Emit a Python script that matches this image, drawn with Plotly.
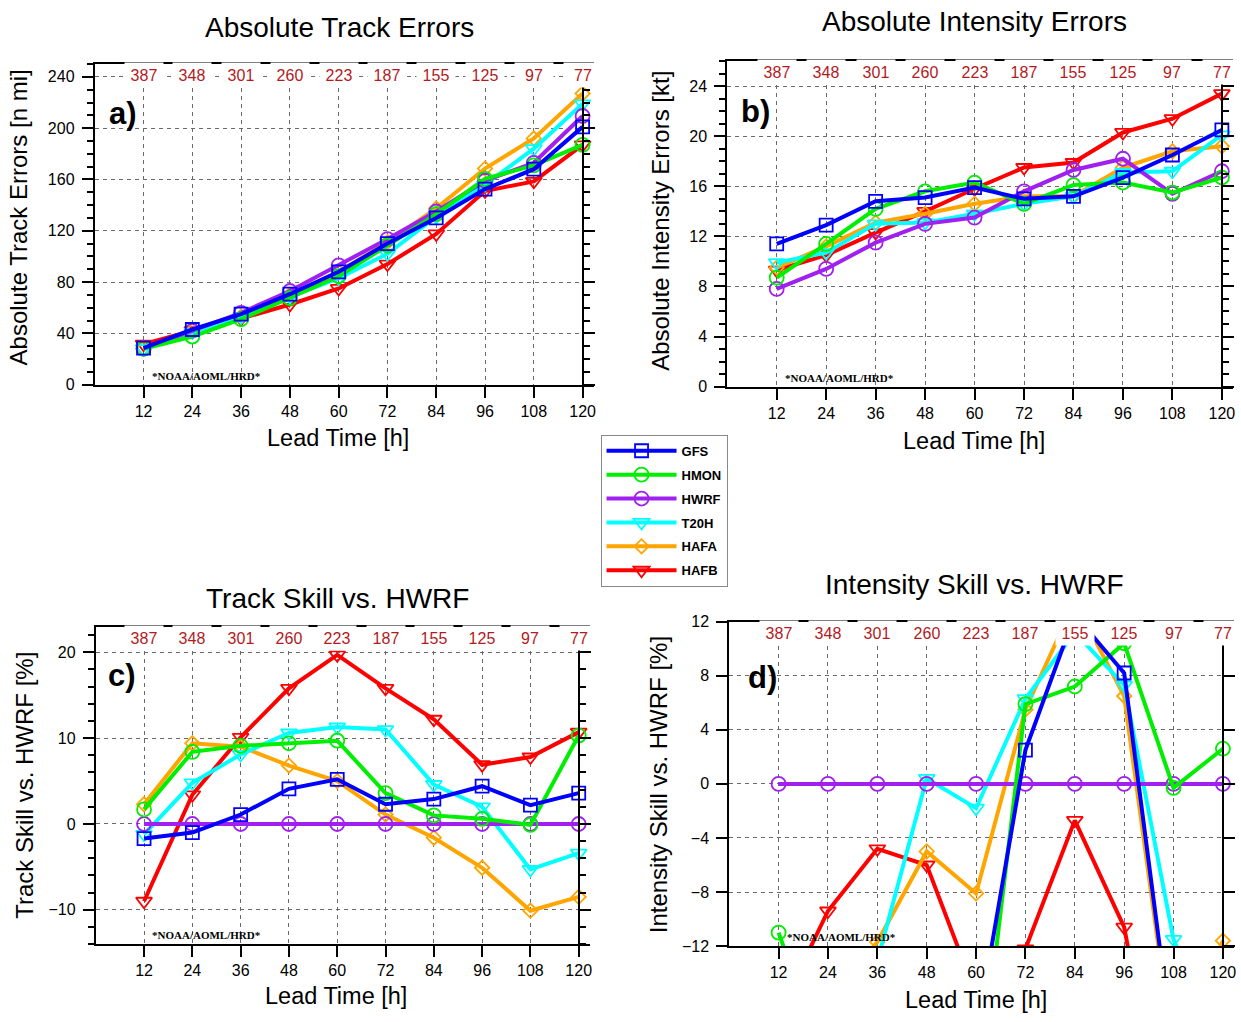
import plotly.graph_objects as go

# ---------------------------------------------------------------------------
# Verification statistics by forecast lead time
# ---------------------------------------------------------------------------
lead_hours = [12, 24, 36, 48, 60, 72, 84, 96, 108, 120]
sample_counts = [387, 348, 301, 260, 223, 187, 155, 125, 97, 77]
model_names = ["GFS", "HMON", "HWRF", "T20H", "HAFA", "HAFB"]

# a) absolute track errors [n mi]
track_gfs = [28.5, 43, 55, 70.5, 88, 110, 130, 152.5, 168, 201]
track_hmon = [28, 37.5, 51, 67.5, 84.5, 108.5, 133, 160.5, 171, 187]
track_hwrf = [28, 42, 56, 73, 93, 113.5, 135, 159, 173, 209.5]
track_t20h = [28, 41, 53, 68.5, 83, 102, 131, 156, 184, 219]
track_hafa = [28, 42, 53, 70, 88, 111, 137.5, 168.5, 192, 227]
track_hafb = [31.5, 42, 51.5, 62.5, 75, 94, 117.5, 151, 158.5, 187]

# b) absolute intensity errors [kt]
inten_gfs = [11.4, 12.9, 14.8, 15.1, 15.9, 15.0, 15.2, 16.7, 18.5, 20.5]
inten_hmon = [8.7, 11.4, 14.2, 15.6, 16.3, 14.6, 16.1, 16.3, 15.5, 16.7]
inten_hwrf = [7.8, 9.4, 11.5, 13.0, 13.5, 15.6, 17.3, 18.2, 15.4, 17.2]
inten_t20h = [9.9, 10.7, 13.0, 13.1, 13.8, 14.6, 15.2, 17.1, 17.2, 20.1]
inten_hafa = [9.5, 11.2, 13.1, 13.8, 14.6, 15.2, 15.2, 17.5, 18.8, 19.2]
inten_hafb = [9.3, 10.5, 12.3, 14.0, 15.8, 17.5, 17.9, 20.3, 21.4, 23.4]

# c) track skill relative to HWRF [%]
tskill_gfs = [-1.7, -1.0, 1.1, 4.1, 5.2, 2.3, 2.9, 4.4, 2.2, 3.6]
tskill_hmon = [1.7, 8.4, 9.1, 9.4, 9.7, 3.6, 1.0, 0.6, -0.1, 10.3]
tskill_hwrf = [0, 0, 0, 0, 0, 0, 0, 0, 0, 0]
tskill_t20h = [-1.2, 4.8, 8.1, 10.6, 11.3, 11.0, 4.6, 2.0, -5.3, -3.4]
tskill_hafa = [2.3, 9.4, 9.0, 6.8, 5.0, 1.1, -1.6, -5.1, -10.1, -8.5]
tskill_hafb = [-9.0, 3.4, 10.1, 15.8, 19.7, 15.8, 12.2, 6.9, 7.8, 10.7]

# d) intensity skill relative to HWRF [%]
iskill_gfs = [-24, -22, -21, -20, -18.7, 2.5, 12.5, 8.2, -19.9, -18]
iskill_hmon = [-11.0, -21.3, -25, -26, -24.7, 5.9, 7.2, 10.4, -0.3, 2.6]
iskill_hwrf = [0, 0, 0, 0, 0, 0, 0, 0, 0, 0]
iskill_t20h = [-20, -18, -13.1, 0.4, -1.8, 6.3, 11.2, 7.3, -11.5, -20]
iskill_hafa = [-20, -16, -11.7, -5.0, -8.1, 5.5, 13.5, 6.5, -20.2, -11.6]
iskill_hafb = [-17, -9.4, -4.8, -6.0, -15.6, -12.2, -2.7, -10.6, -30, -25]

# ---------------------------------------------------------------------------
# Styling
# ---------------------------------------------------------------------------
W, H = 1241, 1022
X_MAX = 122.7
FONT = "Liberation Sans"
COUNT_COLOR = "#B21A22"
GRID_COLOR = "#6a6a6a"

model_colors = {
    "GFS": "#0000FF",
    "HMON": "#00EE00",
    "HWRF": "#A020F0",
    "T20H": "#00FFFF",
    "HAFA": "#FFA500",
    "HAFB": "#FF0000",
}
model_symbols = {
    "GFS": "square-open",
    "HMON": "circle-open",
    "HWRF": "circle-open",
    "T20H": "triangle-down-open",
    "HAFA": "diamond-open",
    "HAFB": "triangle-down-open",
}
model_msize = {"GFS": 13, "HMON": 14, "HWRF": 14, "T20H": 14, "HAFA": 11, "HAFB": 14}


def px_x(px):
    return px / W


def px_y(py):
    return 1 - py / H


def axis_id(letter, i):
    return letter if i == 1 else f"{letter}{i}"


panels = [
    dict(
        letter="a)",
        box=(95, 595, 57, 383),
        series=dict(GFS=track_gfs, HMON=track_hmon, HWRF=track_hwrf,
                    T20H=track_t20h, HAFA=track_hafa, HAFB=track_hafb),
        yrange=[0, 250], tickvals=[0, 40, 80, 120, 160, 200, 240], minor=10,
        title="Absolute Track Errors", title_xy=(340, 20),
        ytitle="Absolute Track Errors [n mi]", ytitle_xy=(19, 213),
        xtitle_xy=(339, 437), letter_xy=(123, 107),
    ),
    dict(
        letter="b)",
        box=(729, 1236, 54, 385),
        series=dict(GFS=inten_gfs, HMON=inten_hmon, HWRF=inten_hwrf,
                    T20H=inten_t20h, HAFA=inten_hafa, HAFB=inten_hafb),
        yrange=[0, 26], tickvals=[0, 4, 8, 12, 16, 20, 24], minor=1,
        title="Absolute Intensity Errors", title_xy=(977, 14),
        ytitle="Absolute Intensity Errors [kt]", ytitle_xy=(662, 216),
        xtitle_xy=(976, 440), letter_xy=(757, 105),
    ),
    dict(
        letter="c)",
        box=(96, 591, 629, 952),
        series=dict(GFS=tskill_gfs, HMON=tskill_hmon, HWRF=tskill_hwrf,
                    T20H=tskill_t20h, HAFA=tskill_hafa, HAFB=tskill_hafb),
        yrange=[-14, 23], tickvals=[-10, 0, 10, 20], minor=2,
        title="Track Skill vs. HWRF", title_xy=(338, 600),
        ytitle="Track Skill vs. HWRF [%]", ytitle_xy=(25, 790),
        xtitle_xy=(337, 1005), letter_xy=(122, 679),
    ),
    dict(
        letter="d)",
        box=(731, 1237, 624, 954),
        series=dict(GFS=iskill_gfs, HMON=iskill_hmon, HWRF=iskill_hwrf,
                    T20H=iskill_t20h, HAFA=iskill_hafa, HAFB=iskill_hafb),
        yrange=[-12, 12], tickvals=[-12, -8, -4, 0, 4, 8, 12], minor=None,
        title="Intensity Skill vs. HWRF", title_xy=(977, 586),
        ytitle="Intensity Skill vs. HWRF [%]", ytitle_xy=(660, 790),
        xtitle_xy=(978, 1009), letter_xy=(764, 681),
    ),
]

fig = go.Figure()
annotations = []
layout_axes = {}

for i, p in enumerate(panels, start=1):
    left, right, top, bottom = p["box"]
    xd = [px_x(left), px_x(right)]
    yd = [px_y(bottom), px_y(top)]
    xa, ya = axis_id("x", i), axis_id("y", i)
    yr = f"y{i + 4}"
    xkey = "xaxis" if i == 1 else f"xaxis{i}"
    ykey = "yaxis" if i == 1 else f"yaxis{i}"

    # models are drawn last-to-first so GFS ends up on top
    for name in reversed(model_names):
        fig.add_trace(go.Scatter(
            x=lead_hours, y=p["series"][name], name=name,
            xaxis=xa, yaxis=ya, mode="lines+markers",
            line=dict(color=model_colors[name], width=4),
            marker=dict(symbol=model_symbols[name], size=model_msize[name],
                        color=model_colors[name],
                        line=dict(color=model_colors[name], width=1.8)),
            showlegend=(i == 1), legendgroup=name,
            legendrank=model_names.index(name) + 1,
        ))

    # empty trace that registers the right-hand (120 h) axis
    fig.add_trace(go.Scatter(
        x=lead_hours, y=[None] * len(lead_hours), xaxis=xa, yaxis=yr,
        mode="lines", showlegend=False, hoverinfo="skip",
    ))

    minor = None
    if p["minor"]:
        minor = dict(dtick=p["minor"], tick0=0, ticks="outside", ticklen=6,
                     tickwidth=1.5, tickcolor="black", showgrid=False)

    layout_axes[xkey] = dict(
        domain=xd, anchor=ya, range=[0, X_MAX],
        tickvals=lead_hours, ticks="outside", ticklen=11, tickwidth=2,
        tickcolor="black", showline=True, linewidth=2, linecolor="black",
        mirror=True, showgrid=True, gridcolor=GRID_COLOR, gridwidth=1,
        griddash="4px,4px", zeroline=False,
        tickfont=dict(family=FONT, size=16, color="black"),
    )
    layout_axes[ykey] = dict(
        domain=yd, anchor=xa, range=p["yrange"], tickvals=p["tickvals"],
        ticks="outside", ticklen=11, tickwidth=2, tickcolor="black",
        showline=True, linewidth=2, linecolor="black",
        showgrid=True, gridcolor=GRID_COLOR, gridwidth=1, griddash="4px,4px",
        zeroline=False, minor=minor, ticklabelstandoff=4,
        tickfont=dict(family=FONT, size=16, color="black"),
    )
    # right-hand axis line sitting at the 120 h position
    layout_axes[f"yaxis{i + 4}"] = dict(
        overlaying=ya, anchor="free", side="right",
        position=xd[0] + (120 / X_MAX) * (xd[1] - xd[0]),
        range=p["yrange"], tickvals=p["tickvals"], showticklabels=False,
        ticks="outside", ticklen=11, tickwidth=2, tickcolor="black",
        showline=True, linewidth=2, linecolor="black",
        showgrid=False, zeroline=False, minor=minor,
    )

    # sample counts along the top edge
    for h, n in zip(lead_hours, sample_counts):
        annotations.append(dict(
            x=h, xref=xa, y=1, yref=f"{ya} domain", yanchor="middle",
            yshift=-11, text=str(n), showarrow=False,
            font=dict(family=FONT, size=16, color=COUNT_COLOR),
            bgcolor="white", width=38, height=24, borderpad=0,
        ))

    annotations.append(dict(
        x=px_x(p["title_xy"][0]), y=px_y(p["title_xy"][1]),
        xref="paper", yref="paper", text=p["title"], showarrow=False,
        xanchor="center", yanchor="middle",
        font=dict(family=FONT, size=28, color="black"),
    ))
    annotations.append(dict(
        x=px_x(p["xtitle_xy"][0]), y=px_y(p["xtitle_xy"][1]),
        xref="paper", yref="paper", text="Lead Time [h]", showarrow=False,
        xanchor="center", yanchor="middle",
        font=dict(family=FONT, size=23.5, color="black"),
    ))
    annotations.append(dict(
        x=px_x(p["ytitle_xy"][0]), y=px_y(p["ytitle_xy"][1]),
        xref="paper", yref="paper", text=p["ytitle"], showarrow=False,
        textangle=-90, xanchor="center", yanchor="middle",
        font=dict(family=FONT, size=24, color="black"),
    ))
    annotations.append(dict(
        x=px_x(p["letter_xy"][0]), y=px_y(p["letter_xy"][1]),
        xref="paper", yref="paper", text=f"<b>{p['letter']}</b>",
        showarrow=False, xanchor="center", yanchor="middle",
        font=dict(family=FONT, size=31, color="black"),
    ))
    annotations.append(dict(
        x=lead_hours[0], xref=xa, xshift=6, y=0, yref=f"{ya} domain",
        yanchor="bottom", yshift=1, xanchor="left",
        text="<b>*NOAA/AOML/HRD*</b>", showarrow=False,
        font=dict(family="Liberation Serif", size=11, color="black"),
    ))

fig.update_layout(
    width=W, height=H,
    margin=dict(l=0, r=0, t=0, b=0),
    paper_bgcolor="white", plot_bgcolor="white",
    annotations=annotations,
    showlegend=True,
    legend=dict(
        x=px_x(602), y=px_y(434), xanchor="left", yanchor="top",
        traceorder="grouped", bgcolor="white",
        bordercolor="#888888", borderwidth=1,
        font=dict(family=FONT, size=13, color="black", weight="bold"),
        itemwidth=70, tracegroupgap=4,
    ),
    **layout_axes,
)

fig.write_html("out.html")
